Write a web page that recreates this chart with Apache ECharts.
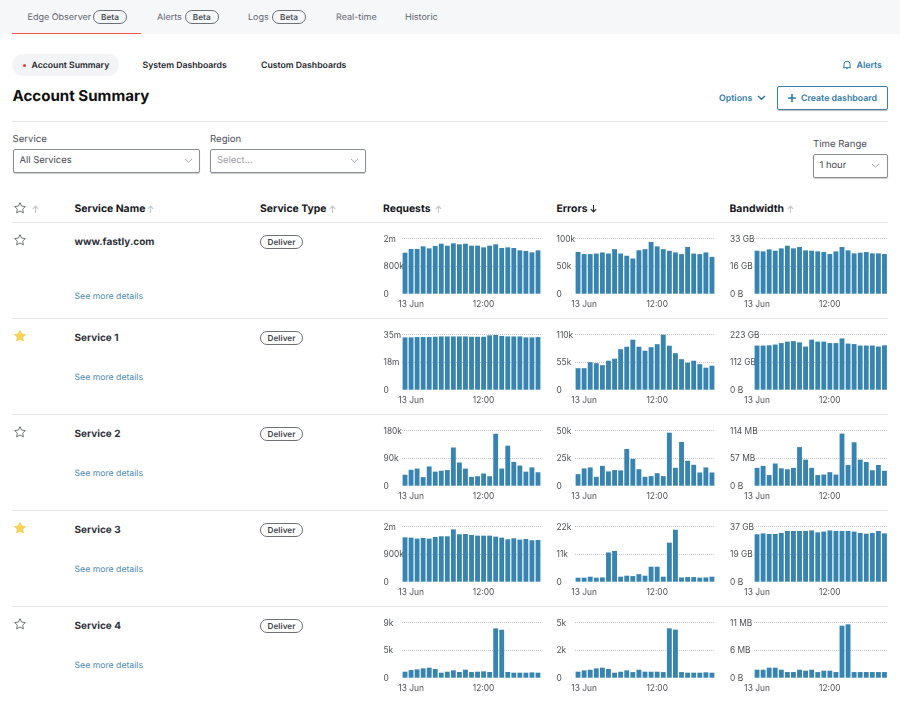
<!DOCTYPE html>
<html>
<head>
<meta charset="utf-8">
<title>Account Summary</title>
<style>
html,body{margin:0;padding:0;background:#fff;}
#page{position:relative;width:900px;height:701px;overflow:hidden;font-family:Inter,sans-serif;color:#33373d;font-size:10px;text-rendering:geometricPrecision;}
#page div,#page span.a{position:absolute;white-space:nowrap;}
#chart{left:0;top:0;width:900px;height:701px;}
.nav{color:#5f6670;font-size:9px;line-height:14px;}
.beta{height:12px;line-height:12px;border:1px solid #6a6f78;border-radius:8px;text-align:center;font-size:8.2px;font-weight:600;color:#4c5058;}
.tab{font-size:8.7px;font-weight:600;color:#24272c;line-height:14px;}
.link{color:#2f7ba5;font-size:8.8px;font-weight:600;line-height:14px;}
.lab{font-size:9.6px;color:#4a4e55;line-height:14px;}
.sel{height:22px;border:1px solid #8a8f97;border-radius:2px;box-shadow:0 1px 1px #ccc;background:#fff;}
.val{font-size:9.4px;color:#44484e;line-height:14px;}
.line{left:12px;width:876px;height:1px;background:#e5e6e8;}
.th{font-size:10.4px;font-weight:700;color:#16181c;line-height:14px;}
.name{font-size:10px;font-weight:700;color:#2e323a;line-height:14px;left:74.5px;}
.more{font-size:8.7px;color:#4f8db2;line-height:14px;left:74.5px;}
.type{left:260px;width:41px;height:12px;line-height:12px;border:1px solid #6d7179;border-radius:7px;text-align:center;font-size:8.2px;font-weight:600;color:#44484e;}
svg{position:absolute;overflow:visible;}
</style>
<script src="https://cdn.jsdelivr.net/npm/echarts@6/dist/echarts.min.js"></script>
</head>
<body>
<div id="page">
  <div style="left:0;top:0;width:900px;height:34px;background:#f6f7f9"></div>
  <div style="left:12px;top:33px;width:129px;height:1.3px;background:#f0564e"></div>
  <div class="nav" style="left:27.5px;top:10.5px">Edge Observer</div>
  <div class="beta" style="left:93px;top:10px;width:32px">Beta</div>
  <div class="nav" style="left:157px;top:10.5px">Alerts</div>
  <div class="beta" style="left:184.7px;top:10px;width:32px">Beta</div>
  <div class="nav" style="left:248px;top:10.5px">Logs</div>
  <div class="beta" style="left:272px;top:10px;width:32px">Beta</div>
  <div class="nav" style="left:336px;top:10.5px">Real-time</div>
  <div class="nav" style="left:405px;top:10.5px">Historic</div>

  <div style="left:12px;top:54px;width:107px;height:22px;border-radius:11px;background:#f3f4f6"></div>
  <div style="left:22.5px;top:63.5px;width:3px;height:3px;border-radius:2px;background:#ee3b33"></div>
  <div class="tab" style="left:31.5px;top:58.5px">Account Summary</div>
  <div class="tab" style="left:142.5px;top:58.5px">System Dashboards</div>
  <div class="tab" style="left:261px;top:58.5px">Custom Dashboards</div>
  <svg style="left:843px;top:60px" width="8" height="10" viewBox="0 0 8 10"><path d="M1 7V4.2a3 3 0 0 1 6 0V7l.6.7H.4zM3.2 8.6h1.6" fill="none" stroke="#2f7ba5" stroke-width="1"/></svg>
  <div class="link" style="left:856.5px;top:58.5px">Alerts</div>

  <div style="left:12.5px;top:86px;font-size:15.1px;font-weight:700;color:#111;line-height:20px">Account Summary</div>
  <div class="link" style="left:719px;top:92px">Options</div>
  <svg style="left:757px;top:95px" width="9" height="6" viewBox="0 0 9 6"><path d="M1 1l3.5 3.2L8 1" fill="none" stroke="#2f7ba5" stroke-width="1.5"/></svg>
  <div style="left:777px;top:86px;width:109px;height:22px;border:1px solid #3d7fa6;border-radius:2px;box-shadow:0 1px 1px #bbb"></div>
  <svg style="left:788px;top:94px" width="8" height="8" viewBox="0 0 8 8"><path d="M4 0v8M0 4h8" stroke="#2f7ba5" stroke-width="1.6"/></svg>
  <div class="link" style="left:801px;top:91.5px">Create dashboard</div>
  <div class="line" style="top:120.5px;height:1.2px;background:#e2e4e7"></div>

  <div class="lab" style="left:12.5px;top:132.5px">Service</div>
  <div class="sel" style="left:12.5px;top:149px;width:185.5px"></div>
  <div class="val" style="left:19.5px;top:154px">All Services</div>
  <svg style="left:184px;top:158px" width="9" height="6" viewBox="0 0 9 6"><path d="M1 1l3.5 3.2L8 1" fill="none" stroke="#a9adb3" stroke-width="1"/></svg>
  <div class="lab" style="left:210px;top:132.5px">Region</div>
  <div class="sel" style="left:210px;top:149px;width:154px"></div>
  <div class="val" style="left:217px;top:154px;color:#9a9ea5">Select...</div>
  <svg style="left:350px;top:158px" width="9" height="6" viewBox="0 0 9 6"><path d="M1 1l3.5 3.2L8 1" fill="none" stroke="#a9adb3" stroke-width="1"/></svg>
  <div class="lab" style="left:813px;top:137.5px">Time Range</div>
  <div class="sel" style="left:812.5px;top:153.5px;width:73.5px"></div>
  <div class="val" style="left:819.5px;top:159px">1 hour</div>
  <svg style="left:871px;top:163px" width="9" height="6" viewBox="0 0 9 6"><path d="M1 1l3.5 3.2L8 1" fill="none" stroke="#a9adb3" stroke-width="1"/></svg>

  <div class="th" style="left:74.5px;top:201.5px">Service Name</div>
  <div class="th" style="left:260px;top:201.5px">Service Type</div>
  <div class="th" style="left:383px;top:201.5px">Requests</div>
  <div class="th" style="left:556.5px;top:201.5px">Errors</div>
  <div class="th" style="left:729.5px;top:201.5px">Bandwidth</div>
  <div class="line" style="top:221.5px"></div>
  <div id="rows"></div>
  <div id="chart"></div>
</div>
<script>
// 23 hourly buckets for requests and errors, bandwidth starts one bucket later
var hours = ['23:00', '13 Jun', '01:00', '02:00', '03:00', '04:00', '05:00', '06:00', '07:00', '08:00', '09:00', '10:00',
  '11:00', '12:00', '13:00', '14:00', '15:00', '16:00', '17:00', '18:00', '19:00', '20:00', '21:00'];
var bandwidthHours = hours.slice(1);
var serviceNames = ['www.fastly.com', 'Service 1', 'Service 2', 'Service 3', 'Service 4'];
var favourites = [false, true, false, true, false];
var moreTops = [289.5, 371, 467, 563, 658.5];

// requests, errors (k or m as in the tick labels), bandwidth
var fastlyRequests = [1193, 1300, 1300, 1377, 1319, 1387, 1455, 1397, 1465, 1436, 1455, 1397, 1397, 1348, 1397, 1436, 1329, 1348, 1329, 1261, 1242, 1203, 1261];
var fastlyErrors = [76, 72, 72, 73, 75, 73, 81, 73, 69, 64, 79, 81, 94, 86, 81, 78, 75, 72, 85, 73, 72, 75, 67];
var fastlyBandwidth = [25.8, 25.4, 26.6, 25.8, 27.2, 28.8, 27.2, 28, 26, 25.8, 25.4, 25, 23.8, 25.4, 28, 26, 24.2, 24.6, 25, 24.2, 24.2, 23.8];

var service1Requests = [33.3, 33.3, 33.5, 33.5, 33.5, 33.7, 33.9, 33.9, 33.9, 33.9, 33.9, 33.7, 33.7, 33.7, 34.6, 34.8, 34.2, 33.9, 33.9, 33.9, 33.3, 33.3, 33.5];
var service1Errors = [43, 43, 55, 53, 49, 58, 62, 81, 86, 100, 86, 78, 85, 91, 110, 88, 73, 61, 54, 58, 51, 44, 48];
var service1Bandwidth = [179, 179, 180, 183, 189, 195, 197, 192, 175, 203, 195, 195, 189, 189, 208, 187, 185, 179, 179, 179, 175, 180];

var service2Requests = [36, 52, 56, 28, 63, 46, 49, 51, 125, 76, 56, 29, 31, 40, 31, 170, 56, 131, 78, 66, 46, 60, 44];
var service2Errors = [10.5, 15.7, 16.6, 8.1, 18, 13, 14.2, 13.9, 33.4, 24.4, 15, 8.1, 8.7, 11.4, 8.7, 48.2, 16.3, 39.8, 22.6, 19, 12, 16.6, 12];
var service2Bandwidth = [37, 41, 22, 46, 36, 34, 37, 80, 54, 37, 22, 23, 28, 23, 108, 43, 90, 54, 49, 32, 43, 31];

var service3Requests = [1453, 1442, 1410, 1431, 1410, 1464, 1486, 1486, 1713, 1551, 1561, 1529, 1507, 1507, 1507, 1475, 1442, 1388, 1420, 1377, 1399, 1355, 1366];
var service3Errors = [1.6, 1.6, 2, 1.6, 1.7, 11.7, 12.3, 2, 2.4, 2.25, 3, 2.4, 6, 6, 2, 15.6, 20.8, 1.7, 1.85, 1.85, 1.6, 1.7, 2];
var service3Bandwidth = [31.9, 32.5, 32.1, 32.1, 32.8, 34.1, 34.1, 34.1, 34.1, 34.5, 33.2, 33.7, 34.5, 34.1, 34.1, 34.1, 33.7, 32.8, 32.3, 32.8, 34.1, 32.5];

var service4Requests = [0.98, 1.25, 1.36, 1.53, 1.64, 1.42, 0.82, 0.98, 1.2, 0.93, 1.31, 0.93, 0.98, 1.04, 0.93, 8.07, 7.85, 0.93, 0.82, 0.82, 0.82, 0.87, 0.82];
var service4Errors = [0.49, 0.6, 0.65, 0.76, 0.82, 0.71, 0.41, 0.49, 0.6, 0.46, 0.65, 0.49, 0.49, 0.49, 0.46, 4.04, 3.93, 0.46, 0.41, 0.41, 0.41, 0.44, 0.41];
var service4Bandwidth = [1.6, 1.6, 2, 2, 1.6, 1.13, 1.13, 1.6, 1.4, 1.6, 1.13, 1.4, 1.4, 1.13, 10.4, 10.67, 1.13, 1.13, 1.13, 1.13, 1.13, 1.13];

// axis top per chart, the tick labels are rounded so they dont give it exactly
var fastlyTops = [1600, 100, 33], fastlyTicks = [['0', '800k', '2m'], ['0', '50k', '100k'], ['0 B', '16 GB', '33 GB']];
var service1Tops = [35, 110, 223], service1Ticks = [['0', '18m', '35m'], ['0', '55k', '110k'], ['0 B', '112 GB', '223 GB']];
var service2Tops = [180, 50, 114], service2Ticks = [['0', '90k', '180k'], ['0', '25k', '50k'], ['0 B', '57 MB', '114 MB']];
var service3Tops = [1800, 22, 37], service3Ticks = [['0', '900k', '2m'], ['0', '11k', '22k'], ['0 B', '19 GB', '37 GB']];
var service4Tops = [9, 4.5, 11], service4Ticks = [['0', '5k', '9k'], ['0', '2k', '5k'], ['0 B', '6 MB', '11 MB']];

var rows = [
  { series: [fastlyRequests, fastlyErrors, fastlyBandwidth], tops: fastlyTops, ticks: fastlyTicks },
  { series: [service1Requests, service1Errors, service1Bandwidth], tops: service1Tops, ticks: service1Ticks },
  { series: [service2Requests, service2Errors, service2Bandwidth], tops: service2Tops, ticks: service2Ticks },
  { series: [service3Requests, service3Errors, service3Bandwidth], tops: service3Tops, ticks: service3Ticks },
  { series: [service4Requests, service4Errors, service4Bandwidth], tops: service4Tops, ticks: service4Ticks }
];

var starPath = 'M6 .6l1.6 3.5 3.8.4-2.8 2.6.8 3.8L6 9 2.6 10.9l.8-3.8L.6 4.5l3.8-.4z';
function star(x, y, on) {
  return '<svg style="left:' + x + 'px;top:' + y + 'px" width="12" height="12" viewBox="0 0 12 12"><path d="' + starPath + '" fill="' +
    (on ? '#f7d158' : 'none') + '" stroke="' + (on ? '#f7d158' : '#70757d') + '" stroke-width="1"/></svg>';
}
function arrow(x, y, dark) {
  var c = dark ? '#22252a' : '#c3c7cc';
  return '<svg style="left:' + x + 'px;top:' + y + 'px" width="7" height="8" viewBox="0 0 7 8"><path d="' +
    (dark ? 'M3.5 0v7M.8 4.2l2.7 2.8 2.7-2.8' : 'M3.5 8V1M.8 3.8L3.5 1l2.7 2.8') + '" fill="none" stroke="' + c + '" stroke-width="1.1"/></svg>';
}

var html = star(14, 202, false) + arrow(32, 204.5) + arrow(147, 204.5) + arrow(329, 204.5) + arrow(434.5, 204.5) + arrow(590, 205, true) + arrow(787, 204.5);
serviceNames.forEach(function (name, i) {
  var y = 96 * i;
  html += star(14, 234 + y, favourites[i]);
  html += '<div class="name" style="top:' + (234.5 + y) + 'px">' + name + '</div>';
  html += '<div class="type" style="top:' + (235 + y) + 'px">Deliver</div>';
  html += '<div class="more" style="top:' + moreTops[i] + 'px">See more details</div>';
  if (i < 4) html += '<div class="line" style="top:' + (317.5 + y) + 'px"></div>';
});
document.getElementById('rows').innerHTML = html;

var columns = [
  { left: 402, width: 139, labelMargin: 18.5, cats: hours },
  { left: 575, width: 140, labelMargin: 18.5, cats: hours },
  { left: 754, width: 133.5, labelMargin: 24, cats: bandwidthHours }
];
var grids = [], xAxes = [], yAxes = [], seriesList = [];
rows.forEach(function (row, r) {
  columns.forEach(function (col, c) {
    var idx = grids.length;
    var ticks = row.ticks[c];
    var top = row.tops[c];
    grids.push({ left: col.left, width: col.width, top: 238.7 + 96 * r, height: 55 });
    xAxes.push({
      type: 'category', gridIndex: idx, data: col.cats,
      axisLine: { show: false }, axisTick: { show: false },
      axisLabel: {
        margin: 7, fontSize: 8.4, fontFamily: 'Inter', color: '#4d5157',
        interval: function (i, v) { return v === '13 Jun' || v === '12:00'; }
      }
    });
    yAxes.push({
      type: 'value', gridIndex: idx, min: 0, max: top, interval: top / 2,
      axisLine: { show: false }, axisTick: { show: false },
      splitLine: { showMinLine: false, lineStyle: { type: 'dotted', color: '#c4c6c9', width: 1 } },
      axisLabel: {
        align: 'left', verticalAlign: 'top', lineHeight: 1, margin: col.labelMargin,
        fontSize: 8.4, fontFamily: 'Inter', color: '#4d5157',
        formatter: function (v) { return ticks[Math.round(v / (top / 2))]; }
      }
    });
    seriesList.push({
      type: 'bar', xAxisIndex: idx, yAxisIndex: idx, data: row.series[c],
      barWidth: '80%', silent: true, itemStyle: { color: '#3784b0' }
    });
  });
});

var chart = echarts.init(document.getElementById('chart'));
chart.setOption({
  animation: false,
  backgroundColor: 'transparent',
  grid: grids, xAxis: xAxes, yAxis: yAxes, series: seriesList
});
</script>
</body>
</html>
